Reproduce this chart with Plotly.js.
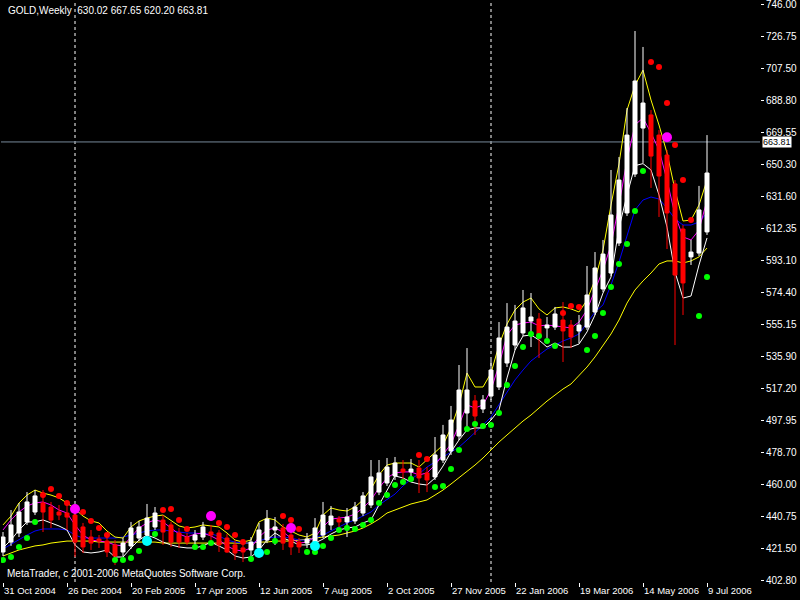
<!DOCTYPE html>
<html><head><meta charset="utf-8">
<script src="https://cdn.plot.ly/plotly-3.0.1.min.js"></script>
<style>html,body{margin:0;padding:0;background:#000;}</style>
</head><body><div id="chart" style="width:800px;height:600px;"></div>
<script>
const tickIdx = [0,8,16,24,32,40,48,56,64,72,80,88];
const tickLabels = ['31 Oct 2004','26 Dec 2004','20 Feb 2005','17 Apr 2005','12 Jun 2005','7 Aug 2005','2 Oct 2005','27 Nov 2005','22 Jan 2006','19 Mar 2006','14 May 2006','9 Jul 2006'];
const priceTicks = [402.80,421.50,440.75,460.00,478.70,497.95,517.20,535.90,555.15,574.40,593.10,612.35,631.60,650.30,669.55,688.80,707.50,726.75,746.00];
const separatorIdx = [9,61];
const bidPrice = 663.81;

const open = [419.5,425.4,430.8,437.4,443.3,448.7,446.3,443.3,442.7,441.5, 434.4,428.4,427.2,426.0,423.7,419.5,423.1,427.8,429.6,434.4, 438.5,435.6,430.8,428.4,426.6,428.4,431.4,430.8,427.8,423.7, 421.9,420.7,421.9,426.6,432.6,433.8,429.6,425.4,424.8,424.8, 429.6,435.6,439.1,437.4,438.0,442.7,447.5,455.2,460.6,464.8, 468.9,467.2,469.5,466.6,464.2,474.3,479.7,488.6,502.3,509.5, 504.7,512.4,517.8,532.1,542.8,550.0,557.1,558.3,553.0,553.5, 557.7,554.7,551.2,553.5,562.5,576.2,585.7,603.6,621.5,644.7, 672.1,679.9,667.9,656.0,638.8,611.9,595.3,597.6,610.2];
const high = [431.4,444.5,448.7,455.2,456.4,456.4,449.3,447.5,449.3,444.5, 436.8,432.6,429.6,428.4,426.6,427.8,437.4,438.0,448.1,446.3, 441.5,437.4,433.8,430.8,432.6,437.4,435.6,432.6,430.2,426.6, 424.8,428.4,436.8,444.5,440.3,436.2,432.6,427.8,430.8,439.7, 449.3,446.9,440.9,445.7,449.3,455.2,474.3,474.3,475.5,476.1, 474.3,474.9,474.3,470.1,488.0,495.2,506.5,530.9,541.0,513.0, 513.0,533.9,556.5,567.8,566.7,575.6,573.8,561.9,559.5,565.5, 568.4,557.7,560.7,589.9,598.2,605.4,647.1,654.8,684.0,729.9, 720.4,682.8,670.9,659.0,641.1,614.3,605.4,637.6,667.9];
const low = [417.1,423.1,428.4,435.6,441.5,431.4,433.8,438.5,432.6,416.5, 418.9,420.7,421.9,416.5,411.7,417.1,421.3,426.0,428.4,432.6, 423.7,422.5,421.9,423.7,423.7,426.6,424.8,419.5,418.9,414.7, 413.5,417.1,419.5,424.8,423.7,420.7,417.7,418.9,421.9,423.1, 427.8,432.6,434.4,428.4,436.2,440.9,445.7,453.4,458.8,462.4, 459.4,462.4,454.6,455.2,462.4,472.5,477.3,486.2,492.2,489.2, 502.3,510.1,516.0,529.7,539.8,548.2,541.6,535.1,547.0,551.8, 532.7,541.0,544.0,551.8,560.7,574.4,583.9,601.8,619.7,642.9, 651.3,636.4,619.1,600.0,542.8,560.7,590.5,595.9,608.4];
const close = [428.4,435.6,443.3,449.3,452.9,443.3,438.5,441.5,440.3,425.4, 422.5,424.8,426.0,419.5,417.1,424.8,433.8,434.4,439.7,442.7, 431.4,425.4,425.4,425.4,429.6,434.4,429.6,423.7,419.5,418.9, 419.5,425.4,432.6,439.1,434.4,424.8,422.5,422.5,427.2,433.8, 441.5,440.9,437.4,440.3,446.3,452.9,464.2,466.6,470.1,472.5, 467.2,468.9,463.6,462.4,477.3,489.2,498.1,516.0,516.0,500.5, 510.1,527.9,547.0,553.5,557.1,564.9,559.5,547.6,554.7,561.3, 551.2,547.6,554.7,572.6,588.7,597.0,620.3,641.1,667.9,700.1, 687.0,655.4,643.5,621.5,584.5,579.8,598.2,623.3,645.3];

const maSlow = [417.1,418.9,420.7,421.9,423.1,423.7,424.8,425.4,426.0,426.0, 426.0,426.0,425.4,425.4,425.4,425.4,425.4,425.4,425.4,425.4, 424.8,424.8,424.8,424.8,424.8,424.8,424.8,424.8,424.8,424.8, 424.8,424.8,425.4,425.4,426.0,426.0,426.0,426.6,427.2,427.8, 428.4,429.0,429.6,430.8,432.0,433.8,436.2,439.1,442.7,444.5, 446.3,448.1,449.3,450.5,453.4,456.4,460.0,463.6,467.7,471.3, 475.5,480.3,485.0,489.2,493.4,497.5,501.1,505.3,509.4,513.0, 516.6,519.6,524.4,529.7,535.7,542.2,549.4,557.7,567.8,575.6, 581.0,585.7,591.1,592.9,592.9,591.7,592.9,595.3,600.6];
const maBlue = [421.3,424.2,427.2,429.6,432.0,433.2,433.2,433.2,432.6,429.6, 427.8,427.8,427.8,427.8,427.8,428.4,429.6,430.8,432.0,432.6, 432.6,432.0,431.4,430.8,430.8,430.2,430.2,429.0,426.6,425.4, 424.8,424.8,426.0,427.8,428.4,428.4,427.8,426.6,426.6,427.8, 429.6,432.0,434.4,436.8,438.6,440.9,443.3,447.5,450.5,454.0, 458.8,463.0,466.0,470.1,473.1,476.1,479.1,482.0,486.2,491.0, 495.2,499.9,507.1,514.8,522.0,527.9,533.3,536.9,540.4,542.8, 545.2,547.0,549.4,555.9,562.5,566.7,578.6,592.3,608.4,623.3, 629.2,631.0,629.8,624.4,617.9,614.3,614.3,616.1,621.5];
const maWhite = [421.9,426.6,432.6,437.4,437.4,438.6,436.8,435.0,432.6,423.7, 419.5,418.9,419.5,420.7,416.5,416.5,421.9,426.6,429.6,427.8, 425.4,423.7,422.5,421.9,421.9,423.1,425.4,423.1,420.7,417.1, 415.9,416.5,420.7,426.6,430.8,427.8,426.0,423.7,423.7,424.8, 427.2,430.2,432.6,433.8,434.4,436.8,438.6,447.5,456.4,464.8, 463.6,461.2,460.0,459.4,463.6,470.7,479.1,486.2,492.2,493.4, 493.4,498.1,504.1,523.2,539.8,548.2,548.8,545.8,541.6,544.0, 541.6,541.6,543.4,550.6,560.7,573.8,583.3,612.5,632.2,649.7, 650.9,647.1,632.2,613.1,586.3,570.8,572.0,590.5,606.6];
const maUpper = [435.6,440.9,448.7,453.4,456.4,454.6,453.4,451.7,448.7,445.1, 440.9,438.0,436.8,432.0,428.4,427.8,434.4,438.0,439.7,440.9, 441.5,438.0,435.0,433.8,434.4,435.6,435.0,434.4,430.8,426.6, 425.4,426.6,437.4,439.7,438.6,434.4,432.0,429.6,428.4,430.8, 441.5,445.7,444.5,443.9,446.3,450.5,457.0,465.4,471.3,472.5, 472.5,472.5,470.1,474.3,478.5,483.2,493.4,507.1,526.1,517.8, 517.8,526.1,542.8,555.3,563.7,568.4,570.8,564.3,560.7,564.9, 565.5,564.3,562.5,569.6,581.6,599.4,626.2,650.7,682.8,697.6, 706.6,688.8,673.9,657.2,635.2,616.7,617.3,626.2,641.1];
const maMagenta = [432.6,438.6,443.3,446.9,448.7,449.3,447.5,444.5,442.7,435.6, 429.6,426.6,426.0,425.4,423.7,423.1,428.4,433.8,436.8,438.6, 437.4,433.8,430.2,428.4,430.2,430.8,429.0,426.6,423.1,420.7, 420.1,421.9,428.4,432.6,433.8,431.4,427.8,424.8,425.4,428.4, 434.4,439.1,439.7,440.3,442.1,445.7,450.5,457.6,463.6,466.6, 467.2,467.2,465.4,466.6,471.3,477.3,483.8,495.2,507.1,505.3, 507.1,516.0,530.9,548.8,554.7,555.9,556.5,554.2,554.7,554.2, 553.5,553.0,556.5,563.7,575.6,587.5,602.4,626.2,653.1,674.0, 678.1,669.2,659.0,641.1,620.3,607.2,605.4,611.3,629.2];

const sarGreen = [414.7,416.5,422.5,427.8,437.4,null,null,null,null,null, null,null,null,null,414.7,414.7,415.9,420.1,426.0,430.2, null,null,null,null,422.5,422.5,424.8,null,null,null, null,415.3,418.9,419.5,426.0,null,null,null,419.5,419.5, 423.1,427.8,432.6,433.8,433.2,435.6,438.6,448.7,453.4,459.4, 461.2,463.0,null,null,458.2,458.8,468.9,480.3,492.8,495.8, 494.6,495.2,502.3,519.0,530.3,541.6,549.4,548.2,545.2,542.2, null,null,null,539.8,548.2,561.9,577.4,591.1,603.0,622.7, 646.5,null,null,null,null,null,null,560.1,583.3];
const sarRed = [null,null,null,null,null,453.4,457.0,452.9,448.7,445.1, 443.3,437.9,433.8,429.6,null,null,null,null,null,null, 444.5,445.1,438.6,433.2,null,null,null,436.8,434.4,429.6, 425.4,null,null,null,null,440.9,438.6,433.2,null,null, null,null,null,null,null,null,null,null,null,null, null,null,477.3,474.9,null,null,null,null,null,null, null,null,null,null,null,null,null,null,null,null, 561.9,566.1,565.5,null,null,null,null,null,null,null, null,711.5,708.5,687.0,662.0,641.1,617.3,null,null];
const bigMagentaIdx = [9,26,36,83];
const bigMagentaVal = [445.1,440.9,433.8,666.6];
const bigCyanIdx = [18,32,39];
const bigCyanVal = [426.0,418.9,423.1];

const idx = open.map((_, i) => i);
const FONT = 'Liberation Sans, Arial, sans-serif';
function line(y, color) {
  return {type:'scatter', mode:'lines', x: idx, y: y, line:{color: color, width: 1}, hoverinfo:'skip', zorder: -1};
}
function dots(x, y, color, size) {
  return {type:'scatter', mode:'markers', x: x, y: y, marker:{color: color, size: size, line:{width:0}}, hoverinfo:'skip', zorder: 1};
}
const data = [
  line(maSlow, '#ffff00'),
  line(maBlue, '#0000ff'),
  line(maWhite, '#ffffff'),
  line(maUpper, '#ffff00'),
  line(maMagenta, '#ff00ff'),
  {type:'candlestick', x: idx, open: open, high: high, low: low, close: close,
   increasing:{line:{color:'#ffffff', width:1}, fillcolor:'#ffffff'},
   decreasing:{line:{color:'#ff0000', width:1}, fillcolor:'#ff0000'},
   whiskerwidth: 0, hoverinfo:'skip'},
  dots(idx, sarGreen, '#00ff00', 6),
  dots(idx, sarRed, '#ff0000', 6),
  dots(bigMagentaIdx, bigMagentaVal, '#ff00ff', 10),
  dots(bigCyanIdx, bigCyanVal, '#00ffff', 10)
];

const shapes = separatorIdx.map(s => ({type:'line', xref:'x', yref:'paper', x0:s, x1:s, y0:0, y1:1, layer:'below', line:{color:'#ffffff', width:1, dash:'3px,3px'}}));
shapes.push({type:'line', xref:'paper', yref:'y', x0:0, x1:1, y0:bidPrice, y1:bidPrice, layer:'below', line:{color:'#778899', width:1}});

const layout = {
  width: 800, height: 600,
  paper_bgcolor: '#000000', plot_bgcolor: '#000000',
  margin: {l:1, r:40, t:2, b:18},
  showlegend: false,
  boxgap: 0.5, boxgroupgap: 0,
  font: {family: FONT, size: 10, color: '#ffffff'},
  xaxis: {
    range: [-0.25, 94.625], rangeslider:{visible:false},
    tickmode:'array', tickvals: tickIdx, ticktext: tickLabels, tickangle: 0,
    ticks:'outside', ticklen:4, tickcolor:'#ffffff', ticklabelposition:'outside right',
    tickfont:{family: FONT, size: 9.5, color:'#ffffff'},
    showgrid:false, zeroline:false, showline:true, linecolor:'#ffffff', linewidth:1, mirror:true, fixedrange:true
  },
  yaxis: {
    side:'right', range:[401.61, 747.19],
    tickmode:'array', tickvals: priceTicks, tickformat:'.2f',
    ticks:'outside', ticklen:3, tickcolor:'#ffffff', ticklabeloverflow:'allow',
    tickfont:{family: FONT, size: 10, color:'#ffffff'},
    showgrid:false, zeroline:false, showline:true, linecolor:'#ffffff', linewidth:1, mirror:true, fixedrange:true
  },
  shapes: shapes,
  annotations: [
    {xref:'paper', yref:'paper', x:0, y:1, xanchor:'left', yanchor:'top', xshift:5, yshift:-1, showarrow:false,
     text:'GOLD,Weekly\u00a0\u00a0630.02 667.65 620.20 663.81', font:{family: FONT, size:10, color:'#ffffff'}},
    {xref:'paper', yref:'paper', x:0, y:0, xanchor:'left', yanchor:'bottom', xshift:4, yshift:1, showarrow:false,
     text:'MetaTrader, c 2001-2006 MetaQuotes Software Corp.', font:{family: FONT, size:10, color:'#ffffff'}},
    {xref:'paper', yref:'y', x:1, y:bidPrice, xanchor:'left', yanchor:'middle', xshift:2, showarrow:false,
     text: bidPrice.toFixed(2), bgcolor:'#ffffff', borderpad:0, font:{family: FONT, size:9, color:'#000000'}}
  ]
};
Plotly.newPlot('chart', data, layout, {staticPlot:true, displayModeBar:false});
</script></body></html>
